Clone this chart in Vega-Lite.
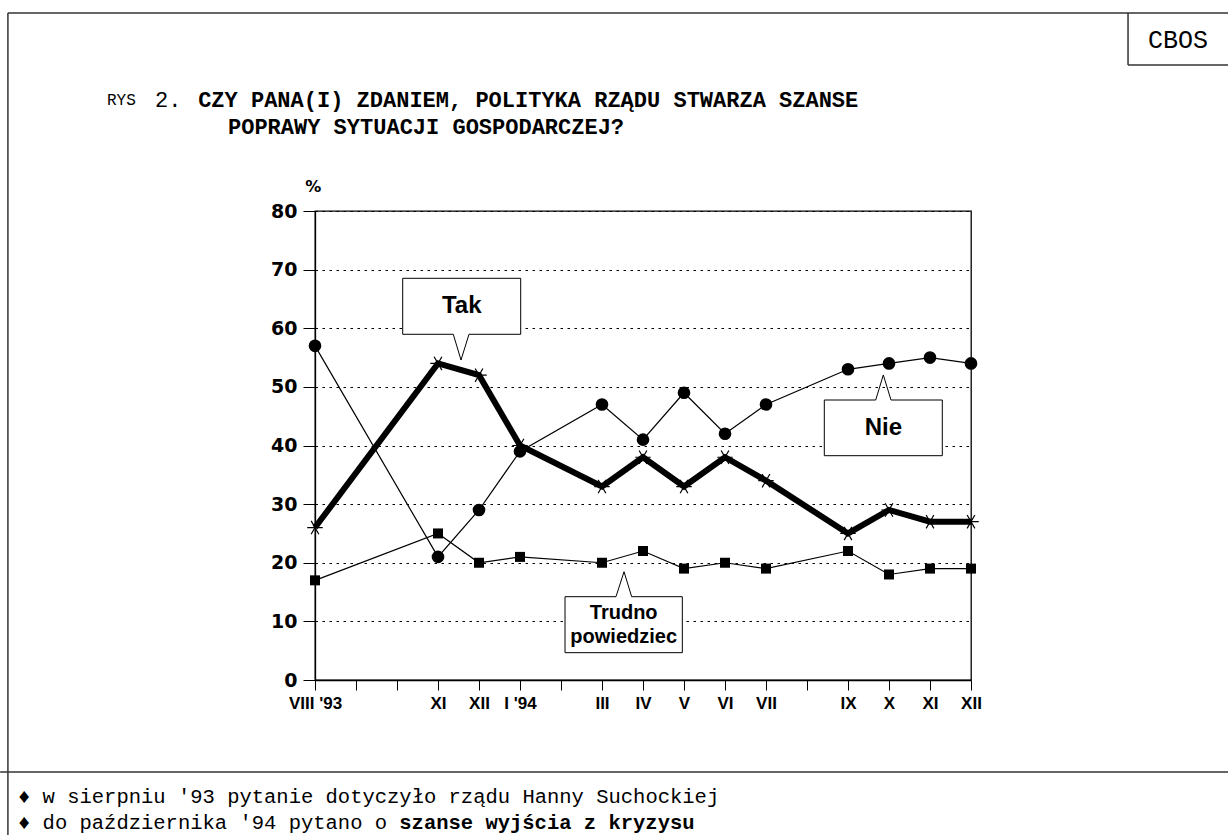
{
  "$schema": "https://vega.github.io/schema/vega-lite/v6.json",
  "width": 656,
  "height": 469,
  "autosize": {"type": "none"},
  "padding": {"left": 315, "top": 211, "right": 257, "bottom": 155},
  "background": "white",
  "config": {
    "view": {"stroke": "black", "strokeWidth": 1.3}
  },
  "datasets": {
    "series": [
      {"m": 0, "s": "Tak", "v": 26}, {"m": 3, "s": "Tak", "v": 54}, {"m": 4, "s": "Tak", "v": 52},
      {"m": 5, "s": "Tak", "v": 40}, {"m": 7, "s": "Tak", "v": 33}, {"m": 8, "s": "Tak", "v": 38},
      {"m": 9, "s": "Tak", "v": 33}, {"m": 10, "s": "Tak", "v": 38}, {"m": 11, "s": "Tak", "v": 34},
      {"m": 13, "s": "Tak", "v": 25}, {"m": 14, "s": "Tak", "v": 29}, {"m": 15, "s": "Tak", "v": 27},
      {"m": 16, "s": "Tak", "v": 27},
      {"m": 0, "s": "Nie", "v": 57}, {"m": 3, "s": "Nie", "v": 21}, {"m": 4, "s": "Nie", "v": 29},
      {"m": 5, "s": "Nie", "v": 39}, {"m": 7, "s": "Nie", "v": 47}, {"m": 8, "s": "Nie", "v": 41},
      {"m": 9, "s": "Nie", "v": 49}, {"m": 10, "s": "Nie", "v": 42}, {"m": 11, "s": "Nie", "v": 47},
      {"m": 13, "s": "Nie", "v": 53}, {"m": 14, "s": "Nie", "v": 54}, {"m": 15, "s": "Nie", "v": 55},
      {"m": 16, "s": "Nie", "v": 54},
      {"m": 0, "s": "Trudno", "v": 17}, {"m": 3, "s": "Trudno", "v": 25}, {"m": 4, "s": "Trudno", "v": 20},
      {"m": 5, "s": "Trudno", "v": 21}, {"m": 7, "s": "Trudno", "v": 20}, {"m": 8, "s": "Trudno", "v": 22},
      {"m": 9, "s": "Trudno", "v": 19}, {"m": 10, "s": "Trudno", "v": 20}, {"m": 11, "s": "Trudno", "v": 19},
      {"m": 13, "s": "Trudno", "v": 22}, {"m": 14, "s": "Trudno", "v": 18}, {"m": 15, "s": "Trudno", "v": 19},
      {"m": 16, "s": "Trudno", "v": 19}
    ],
    "frame": [
      {"m": -7.49, "v": 113.77, "m2": 22.3, "v2": 113.77},
      {"m": -7.49, "v": 113.77, "m2": -7.49, "v2": -26.5},
      {"m": -7.68, "v": -15.69, "m2": 22.3, "v2": -15.69},
      {"m": 19.83, "v": 113.77, "m2": 19.83, "v2": 104.9},
      {"m": 19.83, "v": 104.9, "m2": 22.3, "v2": 104.9}
    ],
    "boxes": [
      {"id": "Tak", "m": 2.139, "v": 58.97, "m2": 5.017, "v2": 68.52},
      {"id": "Nie", "m": 12.422, "v": 38.26, "m2": 15.3, "v2": 47.76},
      {"id": "Trudno", "m": 6.098, "v": 4.66, "m2": 8.959, "v2": 14.21}
    ],
    "covers": [
      {"id": "Tak", "m": 3.373, "v": 58.97, "m2": 3.756, "v2": 58.97},
      {"id": "Nie", "m": 13.676, "v": 47.76, "m2": 14.049, "v2": 47.76},
      {"id": "Trudno", "m": 7.341, "v": 14.21, "m2": 7.724, "v2": 14.21}
    ],
    "pointers": [
      {"id": "Tak", "o": 1, "m": 3.373, "v": 58.97},
      {"id": "Tak", "o": 2, "m": 3.561, "v": 54.58},
      {"id": "Tak", "o": 3, "m": 3.756, "v": 58.97},
      {"id": "Nie", "o": 1, "m": 13.676, "v": 47.76},
      {"id": "Nie", "o": 2, "m": 13.861, "v": 52.03},
      {"id": "Nie", "o": 3, "m": 14.049, "v": 47.76},
      {"id": "Trudno", "o": 1, "m": 7.341, "v": 14.21},
      {"id": "Trudno", "o": 2, "m": 7.537, "v": 18.47},
      {"id": "Trudno", "o": 3, "m": 7.724, "v": 14.21}
    ],
    "texts": [
      {"g": "big", "t": "Tak", "m": 3.578, "v": 63.75},
      {"g": "big", "t": "Nie", "m": 13.861, "v": 42.98},
      {"g": "small", "t": "Trudno", "m": 7.529, "v": 11.43},
      {"g": "small", "t": "powiedziec", "m": 7.529, "v": 7.33},
      {"g": "pct", "t": "%", "m": -0.04, "v": 84.15},
      {"g": "rys", "t": "RYS", "m": -5.073, "v": 98.93},
      {"g": "hreg", "t": "2.", "m": -3.9, "v": 98.93},
      {"g": "hbold", "t": "CZY PANA(I) ZDANIEM, POLITYKA RZĄDU STWARZA SZANSE", "m": -2.85, "v": 98.93},
      {"g": "hbold", "t": "POPRAWY SYTUACJI GOSPODARCZEJ?", "m": -2.122, "v": 94.33},
      {"g": "cbos", "t": "CBOS", "m": 21.05, "v": 109.17},
      {"g": "foot", "t": "♦ w sierpniu '93 pytanie dotyczyło rządu Hanny Suchockiej", "m": -7.244, "v": -19.96},
      {"g": "foot", "t": "♦ do października '94 pytano o", "m": -7.244, "v": -24.39},
      {"g": "footb", "t": "szanse wyjścia z kryzysu", "m": 2.056, "v": -24.39}
    ]
  },
  "encoding": {
    "x": {
      "field": "m", "type": "quantitative", "title": null,
      "scale": {"domain": [0, 16], "nice": false, "zero": false},
      "axis": {
        "values": [0, 1, 2, 3, 4, 5, 6, 7, 8, 9, 10, 11, 12, 13, 14, 15, 16],
        "labelExpr": "[\"VIII '93\", \"\", \"\", \"XI\", \"XII\", \"I '94\", \"\", \"III\", \"IV\", \"V\", \"VI\", \"VII\", \"\", \"IX\", \"X\", \"XI\", \"XII\"][datum.value]",
        "grid": false,
        "domainColor": "black", "domainWidth": 1.3,
        "tickColor": "black", "tickSize": 10, "tickWidth": 1,
        "labelFont": "'Liberation Sans Narrow', 'Liberation Sans', sans-serif",
        "labelFontWeight": "bold", "labelFontSize": 17, "labelColor": "black",
        "labelPadding": 5, "labelFlush": false, "labelOverlap": false
      }
    },
    "y": {
      "field": "v", "type": "quantitative", "title": null,
      "scale": {"domain": [0, 80], "nice": false},
      "axis": {
        "values": [0, 10, 20, 30, 40, 50, 60, 70, 80],
        "grid": true, "gridDash": [2.5, 4.5], "gridColor": "black", "gridWidth": 1,
        "domainColor": "black", "domainWidth": 1.3,
        "tickColor": "black", "tickSize": 12, "tickWidth": 1,
        "labelFont": "DejaVu Sans", "labelFontWeight": "bold", "labelFontSize": 19,
        "labelColor": "black", "labelPadding": 6
      }
    }
  },
  "layer": [
    {
      "data": {"name": "series"},
      "transform": [{"filter": "datum.s === 'Nie'"}],
      "mark": {"type": "line", "color": "black", "strokeWidth": 1.2},
      "encoding": {}
    },
    {
      "data": {"name": "series"},
      "transform": [{"filter": "datum.s === 'Nie'"}],
      "mark": {"type": "point", "shape": "circle", "filled": true, "color": "black", "size": 160, "opacity": 1},
      "encoding": {}
    },
    {
      "data": {"name": "series"},
      "transform": [{"filter": "datum.s === 'Trudno'"}],
      "mark": {"type": "line", "color": "black", "strokeWidth": 1.2},
      "encoding": {}
    },
    {
      "data": {"name": "series"},
      "transform": [{"filter": "datum.s === 'Trudno'"}],
      "mark": {"type": "point", "shape": "square", "filled": true, "color": "black", "size": 100, "opacity": 1},
      "encoding": {}
    },
    {
      "data": {"name": "series"},
      "transform": [{"filter": "datum.s === 'Tak'"}],
      "mark": {"type": "line", "color": "black", "strokeWidth": 6},
      "encoding": {}
    },
    {
      "data": {"name": "series"},
      "transform": [{"filter": "datum.s === 'Tak'"}],
      "mark": {"type": "point", "shape": "M-1,0L1,0M-0.5,-0.866L0.5,0.866M-0.5,0.866L0.5,-0.866", "filled": false, "stroke": "black", "strokeWidth": 1.2, "size": 240, "opacity": 1},
      "encoding": {}
    },
    {
      "data": {"name": "boxes"},
      "mark": {"type": "rect", "fill": "white", "stroke": "black", "strokeWidth": 1},
      "encoding": {"x2": {"field": "m2"}, "y2": {"field": "v2"}}
    },
    {
      "data": {"name": "covers"},
      "mark": {"type": "rule", "stroke": "white", "strokeWidth": 2.5},
      "encoding": {"x2": {"field": "m2"}, "y2": {"field": "v2"}}
    },
    {
      "data": {"name": "pointers"},
      "mark": {"type": "line", "color": "black", "strokeWidth": 1},
      "encoding": {"detail": {"field": "id"}, "order": {"field": "o", "type": "quantitative"}}
    },
    {
      "data": {"name": "frame"},
      "mark": {"type": "rule", "stroke": "#333", "strokeWidth": 1.5},
      "encoding": {"x2": {"field": "m2"}, "y2": {"field": "v2"}}
    },
    {
      "data": {"name": "texts"},
      "transform": [{"filter": "datum.g === 'big'"}],
      "mark": {"type": "text", "font": "'Liberation Sans Narrow', 'Liberation Sans', sans-serif", "fontWeight": "bold", "fontSize": 24, "color": "black", "align": "center", "baseline": "middle"},
      "encoding": {"text": {"field": "t"}}
    },
    {
      "data": {"name": "texts"},
      "transform": [{"filter": "datum.g === 'small'"}],
      "mark": {"type": "text", "font": "'Liberation Sans Narrow', 'Liberation Sans', sans-serif", "fontWeight": "bold", "fontSize": 20, "color": "black", "align": "center", "baseline": "middle"},
      "encoding": {"text": {"field": "t"}}
    },
    {
      "data": {"name": "texts"},
      "transform": [{"filter": "datum.g === 'pct'"}],
      "mark": {"type": "text", "font": "DejaVu Sans", "fontWeight": "bold", "fontSize": 16, "color": "black", "align": "center", "baseline": "middle"},
      "encoding": {"text": {"field": "t"}}
    },
    {
      "data": {"name": "texts"},
      "transform": [{"filter": "datum.g === 'rys'"}],
      "mark": {"type": "text", "font": "'Liberation Mono', monospace", "fontSize": 16, "color": "black", "align": "left", "baseline": "middle"},
      "encoding": {"text": {"field": "t"}}
    },
    {
      "data": {"name": "texts"},
      "transform": [{"filter": "datum.g === 'hreg'"}],
      "mark": {"type": "text", "font": "'Liberation Mono', monospace", "fontSize": 22, "color": "black", "align": "left", "baseline": "middle"},
      "encoding": {"text": {"field": "t"}}
    },
    {
      "data": {"name": "texts"},
      "transform": [{"filter": "datum.g === 'hbold'"}],
      "mark": {"type": "text", "font": "'Liberation Mono', monospace", "fontWeight": "bold", "fontSize": 22, "color": "black", "align": "left", "baseline": "middle"},
      "encoding": {"text": {"field": "t"}}
    },
    {
      "data": {"name": "texts"},
      "transform": [{"filter": "datum.g === 'cbos'"}],
      "mark": {"type": "text", "font": "'Liberation Mono', monospace", "fontSize": 25, "color": "black", "align": "center", "baseline": "middle"},
      "encoding": {"text": {"field": "t"}}
    },
    {
      "data": {"name": "texts"},
      "transform": [{"filter": "datum.g === 'foot'"}],
      "mark": {"type": "text", "font": "'Liberation Mono', monospace", "fontSize": 20.5, "color": "black", "align": "left", "baseline": "middle"},
      "encoding": {"text": {"field": "t"}}
    },
    {
      "data": {"name": "texts"},
      "transform": [{"filter": "datum.g === 'footb'"}],
      "mark": {"type": "text", "font": "'Liberation Mono', monospace", "fontWeight": "bold", "fontSize": 20.5, "color": "black", "align": "left", "baseline": "middle"},
      "encoding": {"text": {"field": "t"}}
    }
  ]
}
